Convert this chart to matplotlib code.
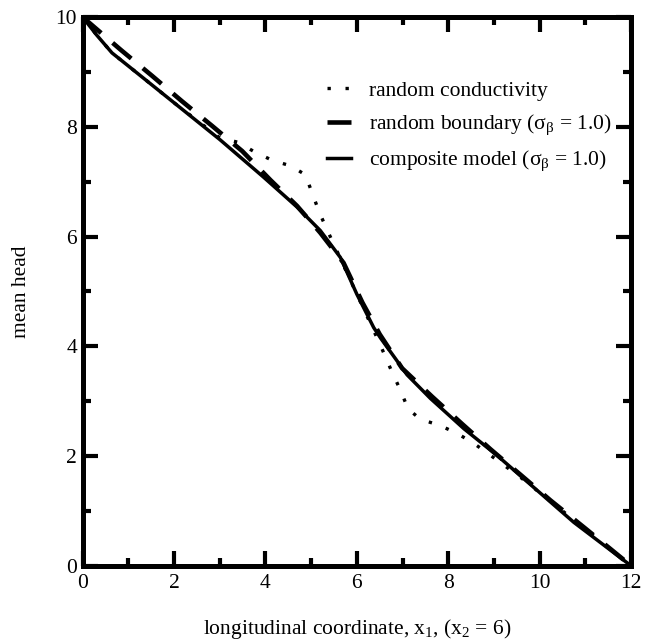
import matplotlib.pyplot as plt
from matplotlib.ticker import MultipleLocator

plt.rcParams['font.family'] = ['Liberation Serif', 'DejaVu Serif']
plt.rcParams['mathtext.fontset'] = 'custom'
plt.rcParams['mathtext.rm'] = 'Liberation Serif'
plt.rcParams['mathtext.it'] = 'Liberation Serif:italic'

# random conductivity (dotted)
x_cond = [0, 0.3, 0.64, 1.0, 2.0, 3.0, 3.4, 3.75, 4.15, 4.55, 4.87, 5.02, 5.17, 5.35, 5.53, 5.75,
          6.0, 6.25, 6.5, 6.77, 6.96, 7.12, 7.39, 7.81, 8.2, 8.56, 8.93, 9.6, 10.5, 12]
y_cond = [10, 9.68, 9.35, 9.11, 8.44, 7.80, 7.72, 7.55, 7.39, 7.29, 7.13, 6.80, 6.46, 6.12, 5.80, 5.40,
          4.95, 4.50, 4.05, 3.53, 3.19, 2.86, 2.67, 2.56, 2.41, 2.23, 2.01, 1.60, 1.00, 0]

# random boundary (dashed)
x_bnd = [0, 0.84, 1.52, 2.17, 2.83, 3.49, 4.11, 4.69, 5.2, 5.71, 6.12, 6.5,
         6.99, 7.65, 8.31, 8.93, 9.58, 10.24, 11.0, 12]
y_bnd = [10, 9.40, 8.93, 8.47, 8.02, 7.56, 7.03, 6.56, 6.07, 5.52, 4.80, 4.22,
         3.60, 3.08, 2.58, 2.12, 1.66, 1.19, 0.68, 0]

# composite model (solid)
x_comp = [0, 0.3, 0.64, 1.0, 2.0, 3.0, 3.95, 4.69, 5.2, 5.64, 6.0, 6.37, 6.52,
          7.1, 7.61, 8.34, 9.07, 9.8, 10.75, 12]
y_comp = [10, 9.68, 9.35, 9.11, 8.44, 7.77, 7.09, 6.54, 6.11, 5.62, 4.95, 4.34, 4.15,
          3.48, 3.05, 2.50, 2.01, 1.48, 0.79, 0]

labels = ['random conductivity',
          r'random boundary ($\mathregular{\sigma_\beta}$ = 1.0)',
          r'composite model ($\mathregular{\sigma_\beta}$ = 1.0)']

fig = plt.figure(figsize=(6.55, 6.4), dpi=100)
ax = fig.add_axes([0.1263, 0.1161, 0.837, 0.857])

ax.plot(x_cond, y_cond, color='black', lw=2.4, linestyle=(0, (1, 4.4)),
        dash_capstyle='butt', label=labels[0])
ax.plot(x_bnd, y_bnd, color='black', lw=3.3, linestyle=(0, (5.3, 3.3)),
        dash_capstyle='butt', label=labels[1])
ax.plot(x_comp, y_comp, color='black', lw=2.5, label=labels[2])

ax.set_xlim(0, 12)
ax.set_ylim(0, 10)
ax.xaxis.set_major_locator(MultipleLocator(2))
ax.xaxis.set_minor_locator(MultipleLocator(1))
ax.yaxis.set_major_locator(MultipleLocator(2))
ax.yaxis.set_minor_locator(MultipleLocator(1))
ax.tick_params(which='both', direction='in', top=True, right=True, width=3,
               labelsize=15.5)
ax.tick_params(axis='x', pad=6)
ax.tick_params(axis='y', pad=4)
ax.tick_params(which='major', length=11)
ax.tick_params(which='minor', length=6)
for s in ax.spines.values():
    s.set_linewidth(3.6)

ax.set_xlabel(r'longitudinal coordinate, x$_{\mathregular{1}}$, (x$_{\mathregular{2}}$ = 6)',
              fontsize=15.5, labelpad=17)
ax.set_ylabel('mean head', fontsize=15.5, labelpad=18)

ax.legend(loc='upper right', frameon=False, fontsize=15.5, handlelength=1.15,
          handletextpad=0.8, labelspacing=0.55, borderaxespad=0.0,
          bbox_to_anchor=(0.98, 0.9))

fig.savefig('out.png', dpi=100)
